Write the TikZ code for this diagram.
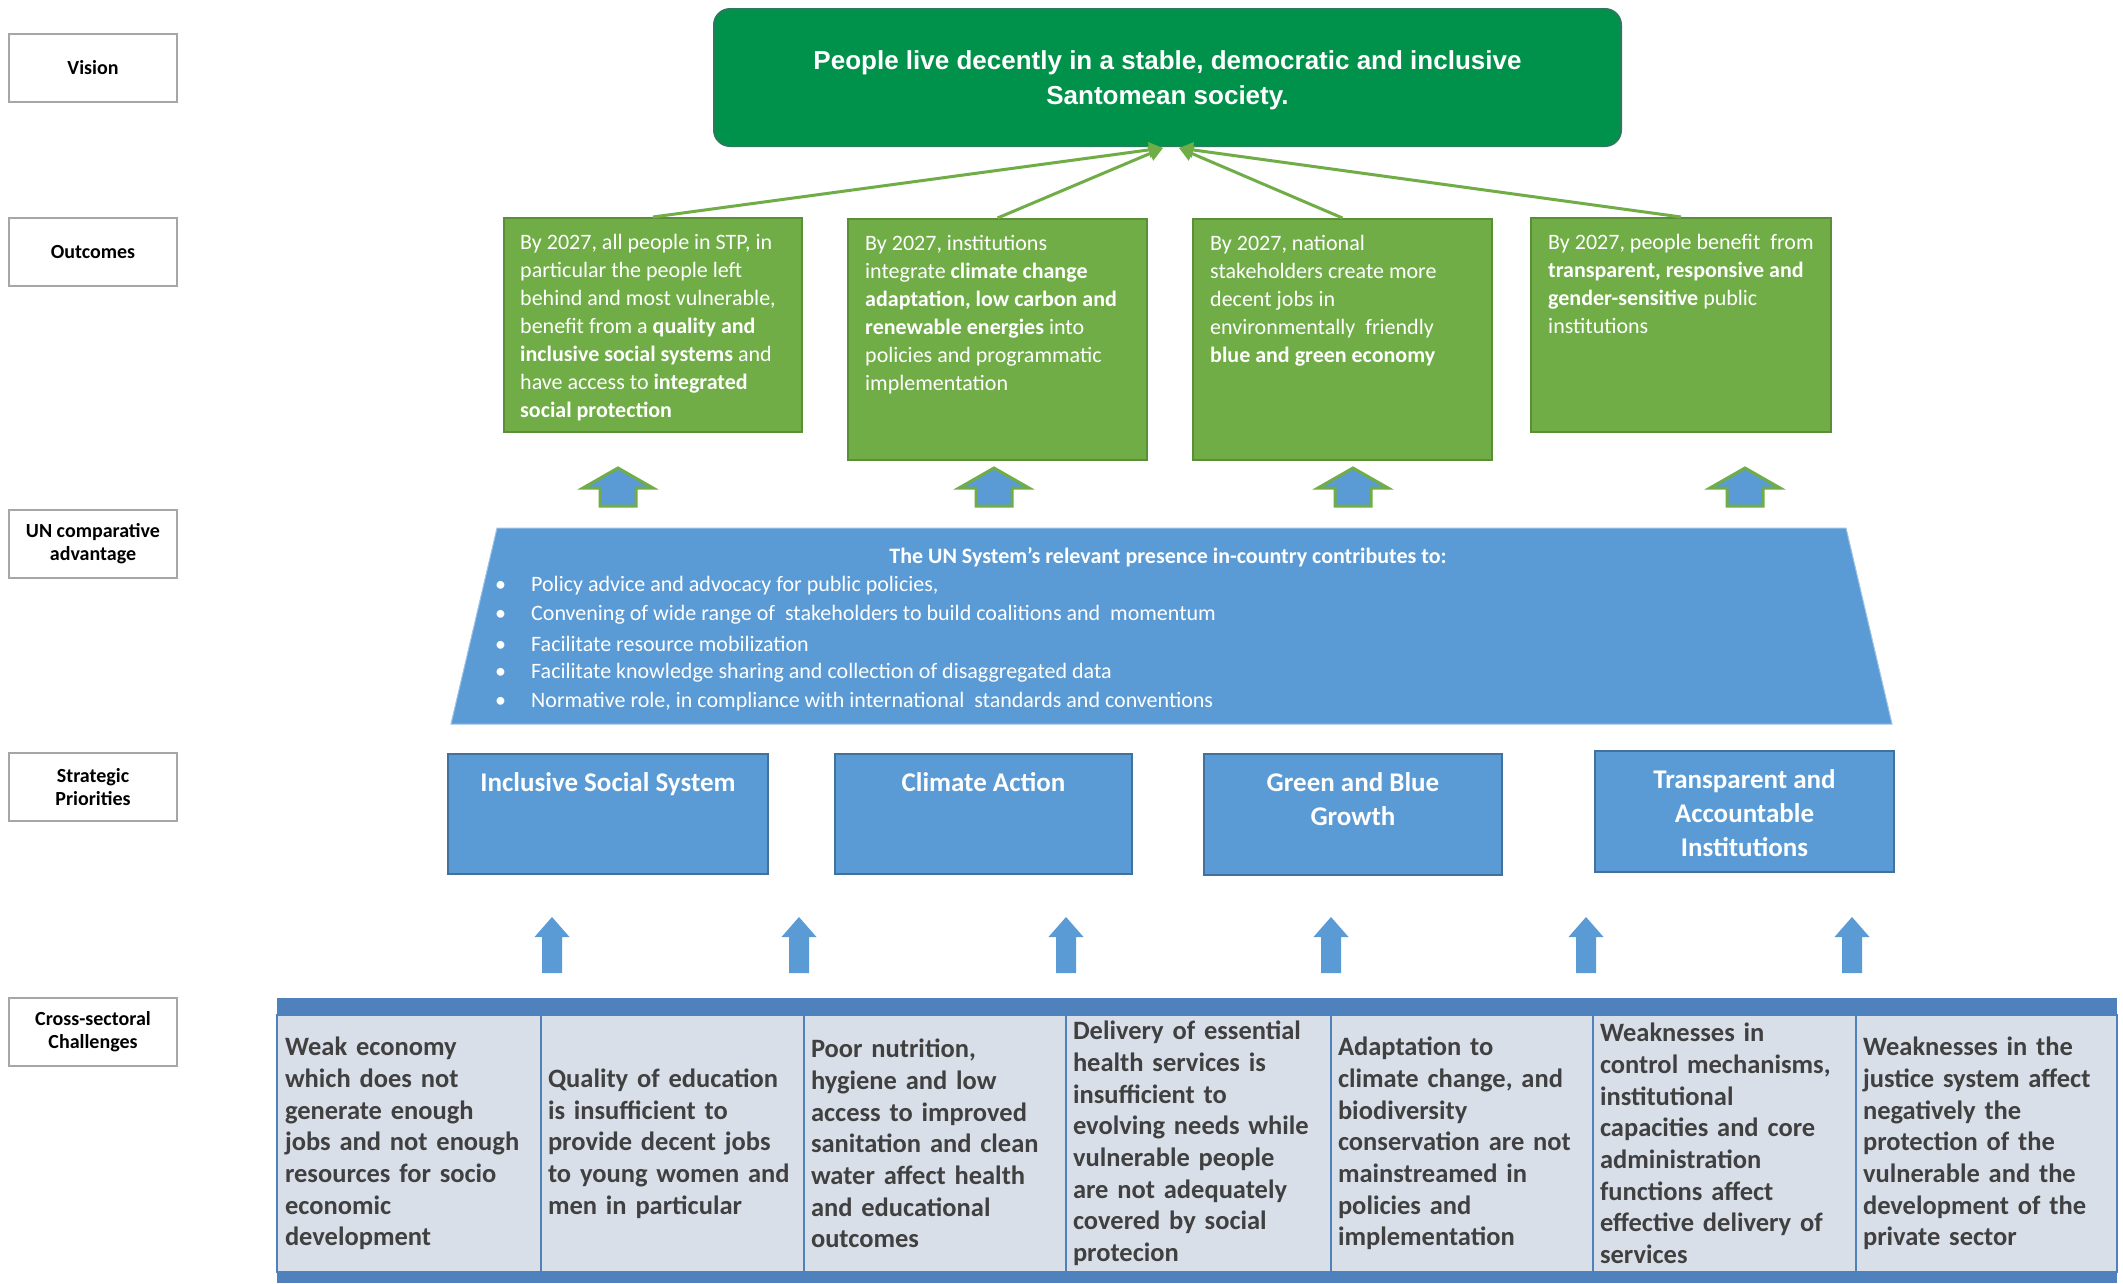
\documentclass[tikz,border=0pt]{standalone}
\usepackage{fontspec}
\setmainfont{Carlito}
\newfontfamily\arialfont{Liberation Sans}
\usetikzlibrary{arrows.meta}
\definecolor{ogreen}{HTML}{70AD47}
\definecolor{ogreenD}{HTML}{5A8F38}
\definecolor{vgreen}{HTML}{00924A}
\definecolor{vborder}{HTML}{2A7A5E}
\definecolor{ublue}{HTML}{5B9BD5}
\definecolor{ubluel}{HTML}{9DC3E6}
\definecolor{sborder}{HTML}{41719C}
\definecolor{tband}{HTML}{4F81BD}
\definecolor{tcell}{HTML}{D9DFE8}
\definecolor{ttext}{HTML}{404040}
\definecolor{lgray}{HTML}{A6A6A6}
\newcommand{\blockarr}[1]{%
  \filldraw[fill=ublue,draw=ogreen,line width=3pt,line join=miter]
  (#1,468) -- (#1+35,488) -- (#1+18,488) -- (#1+18,506) -- (#1-18,506) -- (#1-18,488) -- (#1-35,488) -- cycle;}
\newcommand{\thinarr}[1]{%
  \fill[ublue] (#1,917) -- (#1+17.5,937) -- (#1+10,937) -- (#1+10,973) -- (#1-10,973) -- (#1-10,937) -- (#1-17.5,937) -- cycle;}
\begin{document}
\begin{tikzpicture}[x=1pt,y=-1pt,
  labelbox/.style={draw=lgray,line width=2pt,fill=white,minimum width=168pt,minimum height=68pt,inner sep=0pt,align=center,font=\fontsize{20}{23}\selectfont\bfseries},
  vis/.style={rounded corners=16pt,fill=vgreen,draw=vborder,line width=2pt,minimum width=907pt,minimum height=137pt,inner sep=0pt},
  vistext/.style={inner sep=0pt,text=white,align=center,font=\arialfont\bfseries\fontsize{26}{35}\selectfont},
  obox/.style={draw=ogreenD,line width=2pt,fill=ogreen,inner sep=0pt},
  otext/.style={anchor=north west,inner sep=0pt,text=white,align=left,font=\fontsize{22}{28}\selectfont},
  varrow/.style={draw=ogreen,line width=3pt,-{Triangle[length=14pt,width=15pt]}},
  untitle/.style={inner sep=0pt,text=white,font=\fontsize{22}{26}\selectfont\bfseries},
  unitem/.style={anchor=west,inner sep=0pt,text=white,font=\fontsize{22}{26}\selectfont},
  sbox/.style={draw=sborder,line width=2pt,fill=ublue,inner sep=0pt},
  stext/.style={anchor=north,inner sep=0pt,text=white,align=center,font=\fontsize{27}{34}\selectfont\bfseries},
  cell/.style={draw=tband,line width=1.5pt,fill=tcell,minimum height=257pt,inner sep=0pt,text=ttext,align=left,font=\fontsize{26.5}{31.7}\selectfont\bfseries}
]
\useasboundingbox (0,0) rectangle (2123,1283);
\fill[white] (0,0) rectangle (2123,1283);

% left labels
\node[labelbox] (lv) at (93,68) {Vision};
\node[labelbox] (lo) at (93,252) {Outcomes};
\node[labelbox] (lu) at (93,543.5) {UN comparative\\advantage};
\node[labelbox] (ls) at (93,787) {Strategic\\Priorities};
\node[labelbox] (lc) at (93,1032) {Cross-sectoral\\Challenges};

% vision
\node[vis] (vision) at (1167.5,77.5) {};
\node[vistext] (visiont) at (1167.5,80.5) {People live decently in a stable, democratic and inclusive\\Santomean society.};

% outcomes
\node[obox,minimum width=298pt,minimum height=214pt] (o1) at (653,325) {};
\node[obox,minimum width=299pt,minimum height=241pt] (o2) at (997.5,339.5) {};
\node[obox,minimum width=299pt,minimum height=241pt] (o3) at (1342.5,339.5) {};
\node[obox,minimum width=300pt,minimum height=214pt] (o4) at (1681,325) {};

\node[otext] (o1t) at ([xshift=17pt,yshift=-17pt]o1.north west) {By 2027, all people in STP, in\\particular the people left\\behind and most vulnerable,\\benefit from a \textbf{quality and}\\\textbf{inclusive social systems} and\\have access to \textbf{integrated}\\\textbf{social protection}};
\node[otext] (o2t) at ([xshift=18pt,yshift=-17pt]o2.north west) {By 2027, institutions\\integrate \textbf{climate change}\\\textbf{adaptation, low carbon and}\\\textbf{renewable energies} into\\policies and programmatic\\implementation};
\node[otext] (o3t) at ([xshift=18pt,yshift=-17pt]o3.north west) {By 2027, national\\stakeholders create more\\decent jobs in\\environmentally\ \ friendly\\\textbf{blue and green economy}};
\node[otext] (o4t) at ([xshift=18pt,yshift=-17pt]o4.north west) {By 2027, people benefit\ \ from\\\textbf{transparent, responsive and}\\\textbf{gender-sensitive} public\\institutions};

\coordinate (vtl) at (1163,148);
\coordinate (vtr) at (1179,148);
\draw[varrow] (o1.north) -- (vtl);
\draw[varrow] (o2.north) -- (vtl);
\draw[varrow] (o3.north) -- (vtr);
\draw[varrow] (o4.north) -- (vtr);

% block arrows
\blockarr{618}
\blockarr{994}
\blockarr{1353}
\blockarr{1745}

% UN trapezoid
\filldraw[fill=ublue,draw=ubluel,line width=1pt] (497,528) -- (1846,528) -- (1892,724) -- (451,724) -- cycle;
\node[untitle] (unt) at (1168,557) {The UN System’s relevant presence in-country contributes to:};
\node[unitem] (u1) at (495,586) {\makebox[36pt][l]{•}Policy advice and advocacy for public policies,};
\node[unitem] (u2) at (495,615) {\makebox[36pt][l]{•}Convening of wide range of\ \ stakeholders to build coalitions and\ \ momentum};
\node[unitem] (u3) at (495,644) {\makebox[36pt][l]{•}Facilitate resource mobilization};
\node[unitem] (u4) at (495,673) {\makebox[36pt][l]{•}Facilitate knowledge sharing and collection of disaggregated data};
\node[unitem] (u5) at (495,702) {\makebox[36pt][l]{•}Normative role, in compliance with international\ \ standards and conventions};

% strategic priorities
\node[sbox,minimum width=320pt,minimum height=120pt] (s1) at (608,814) {};
\node[sbox,minimum width=297pt,minimum height=120pt] (s2) at (983.5,814) {};
\node[sbox,minimum width=298pt,minimum height=121pt] (s3) at (1353,814.5) {};
\node[sbox,minimum width=299pt,minimum height=121pt] (s4) at (1744.5,811.5) {};
\node[stext] (s1t) at ([yshift=-19pt]s1.north) {Inclusive Social System};
\node[stext] (s2t) at ([yshift=-19pt]s2.north) {Climate Action};
\node[stext] (s3t) at ([yshift=-19pt]s3.north) {Green and Blue\\Growth};
\node[stext] (s4t) at ([yshift=-19pt]s4.north) {Transparent and\\Accountable\\Institutions};

% thin arrows
\thinarr{552}
\thinarr{799}
\thinarr{1066}
\thinarr{1331}
\thinarr{1586}
\thinarr{1852}

% challenges table
\fill[tband] (277,998) rectangle (2117,1015);
\node[cell,minimum width=264pt,text width=248pt] (c1) at (409,1143.5) {Weak economy\\which does not\\generate enough\\jobs and not enough\\resources for socio\\economic\\development};
\node[cell,minimum width=263pt,text width=249pt] (c2) at (672.5,1143.5) {Quality of education\\is insufficient to\\provide decent jobs\\to young women and\\men in particular};
\node[cell,minimum width=262pt,text width=248pt] (c3) at (935,1143.5) {Poor nutrition,\\hygiene and low\\access to improved\\sanitation and clean\\water affect health\\and educational\\outcomes};
\node[cell,minimum width=265pt,text width=251pt] (c4) at (1198.5,1143.5) {Delivery of essential\\health services is\\insufficient to\\evolving needs while\\vulnerable people\\are not adequately\\covered by social\\protecion};
\node[cell,minimum width=262pt,text width=248pt] (c5) at (1462,1143.5) {Adaptation to\\climate change, and\\biodiversity\\conservation are not\\mainstreamed in\\policies and\\implementation};
\node[cell,minimum width=263pt,text width=249pt] (c6) at (1724.5,1143.5) {Weaknesses in\\control mechanisms,\\institutional\\capacities and core\\administration\\functions affect\\effective delivery of\\services};
\node[cell,minimum width=261pt,text width=247pt] (c7) at (1986.5,1143.5) {Weaknesses in the\\justice system affect\\negatively the\\protection of the\\vulnerable and the\\development of the\\private sector};
\fill[tband] (277,1272) rectangle (2117,1283);
\end{tikzpicture}
\end{document}
